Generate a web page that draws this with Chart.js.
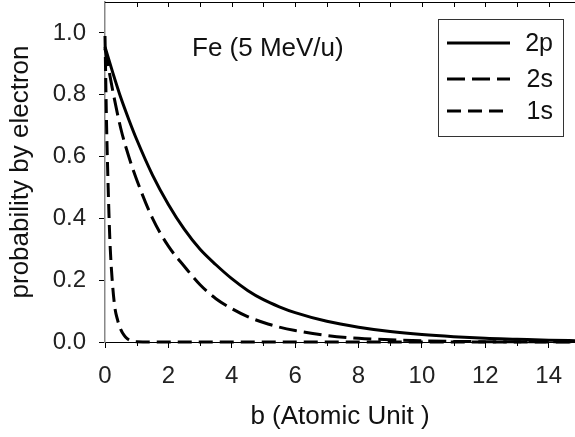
<!DOCTYPE html>
<html>
<head>
<meta charset="utf-8">
<script src="https://cdn.jsdelivr.net/npm/chart.js@4.4.1/dist/chart.umd.min.js"></script>
<style>
html,body{margin:0;padding:0;background:#fff;}
#wrap{width:575px;height:437px;position:relative;}
</style>
</head>
<body>
<div id="wrap"><canvas id="c" width="575" height="437"></canvas></div>
<script>
// ---- data ----
const bGrid = [0, 0.25, 0.5, 0.75, 1, 1.5, 2, 2.5, 3, 3.5, 4, 4.5, 5, 5.5, 6, 7, 8, 9, 10, 11, 12, 13, 14, 15];
const p2p   = [0.955, 0.87, 0.79, 0.72, 0.655, 0.54, 0.445, 0.365, 0.30, 0.25, 0.205, 0.167, 0.137, 0.114, 0.095, 0.067, 0.048, 0.034, 0.024, 0.017, 0.012, 0.009, 0.006, 0.004];
const p2s   = [0.95, 0.81, 0.69, 0.60, 0.525, 0.40, 0.31, 0.245, 0.185, 0.14, 0.108, 0.082, 0.063, 0.048, 0.037, 0.021, 0.012, 0.007, 0.004, 0.002, 0.001, 0.0005, 0.0005, 0.0005];
const b1s   = [0, 0.05, 0.1, 0.15, 0.2, 0.3, 0.4, 0.5, 0.6, 0.7, 0.8, 1, 2, 3, 4, 5, 6, 7, 8, 9, 10, 11, 12, 13, 14, 15];
const p1s   = [0.99, 0.70, 0.50, 0.34, 0.24, 0.12, 0.07, 0.04, 0.022, 0.011, 0.005, 0.001, 0, 0, 0, 0, 0, 0, 0, 0, 0, 0, 0, 0, 0, 0];
const seriesLabels = ['2p', '2s', '1s'];
const xTickValues = [0, 2, 4, 6, 8, 10, 12, 14];
const yTickValues = [0.0, 0.2, 0.4, 0.6, 0.8, 1.0];
const annotationText = 'Fe (5 MeV/u)';
const xTitleText = 'b (Atomic Unit )';
const yTitleText = 'probability by electron';

const FONT = '"Liberation Sans", Arial, Helvetica, sans-serif';
Chart.defaults.font.family = FONT;

const toPts = (xs, ys) => xs.map((x, i) => ({x: x, y: ys[i]}));

const decor = {
  id: 'decor',
  afterDraw(chart) {
    const ctx = chart.ctx;
    const ca = chart.chartArea;
    const xs = chart.scales.x;
    ctx.save();
    // top frame line
    ctx.strokeStyle = '#000';
    ctx.lineWidth = 1;
    ctx.beginPath();
    ctx.moveTo(ca.left, ca.top + 0.5);
    ctx.lineTo(ca.right, ca.top + 0.5);
    ctx.stroke();
    // top inward ticks (every unit) and bottom minor ticks (odd units)
    ctx.beginPath();
    for (let v = 1; v <= 14; v++) {
      const px = Math.round(xs.getPixelForValue(v)) + 0.5;
      ctx.moveTo(px, ca.top);
      ctx.lineTo(px, ca.top + 5);
      if (v % 2 === 1) {
        ctx.moveTo(px, ca.bottom);
        ctx.lineTo(px, ca.bottom + 4);
      }
    }
    ctx.stroke();

    // annotation text
    ctx.fillStyle = '#111';
    ctx.font = '26px ' + FONT;
    ctx.textAlign = 'left';
    ctx.textBaseline = 'alphabetic';
    ctx.fillText(annotationText, 192, 56);

    // legend box
    const bx = 438, by = 19, bw = 125, bh = 117;
    ctx.fillStyle = '#fff';
    ctx.fillRect(bx, by, bw, bh);
    ctx.strokeStyle = '#333';
    ctx.lineWidth = 1;
    ctx.strokeRect(bx + 0.5, by + 0.5, bw, bh);
    const rows = [43, 79, 111];
    chart.data.datasets.forEach((ds, i) => {
      const y = rows[i];
      ctx.strokeStyle = ds.borderColor;
      ctx.lineWidth = ds.borderWidth;
      ctx.setLineDash(ds.borderDash || []);
      ctx.beginPath();
      ctx.moveTo(447, y);
      ctx.lineTo(510, y);
      ctx.stroke();
      ctx.setLineDash([]);
      ctx.fillStyle = '#111';
      ctx.font = '25px ' + FONT;
      ctx.textAlign = 'right';
      ctx.textBaseline = 'middle';
      ctx.fillText(ds.label, 553, y + 1);
    });
    ctx.restore();
  }
};

new Chart(document.getElementById('c'), {
  type: 'line',
  data: {
    datasets: [
      { label: seriesLabels[0], data: toPts(bGrid, p2p), borderColor: '#000', borderWidth: 3, borderDash: [],
        pointRadius: 0, cubicInterpolationMode: 'monotone', fill: false, clip: {left: 5, top: 0, right: 0, bottom: 5} },
      { label: seriesLabels[1], data: toPts(bGrid, p2s), borderColor: '#000', borderWidth: 3, borderDash: [18, 7],
        pointRadius: 0, cubicInterpolationMode: 'monotone', fill: false, clip: {left: 5, top: 0, right: 0, bottom: 5} },
      { label: seriesLabels[2], data: toPts(b1s, p1s), borderColor: '#000', borderWidth: 3, borderDash: [14, 7],
        pointRadius: 0, cubicInterpolationMode: 'monotone', fill: false, clip: {left: 5, top: 0, right: 0, bottom: 5} }
    ]
  },
  options: {
    responsive: false,
    animation: false,
    layout: { padding: { top: 2, right: 0, left: 0, bottom: 0 } },
    plugins: { legend: { display: false }, tooltip: { enabled: false } },
    scales: {
      x: {
        type: 'linear', position: 'bottom', min: 0, max: 14.83,
        afterBuildTicks: s => { s.ticks = xTickValues.map(v => ({value: v})); },
        afterFit: s => { s.height = 95; s.paddingLeft = 0; s.paddingRight = 0; },
        ticks: { font: { size: 24 }, color: '#222', padding: 14, maxRotation: 0, autoSkip: false,
                 callback: v => String(v) },
        grid: { display: true, drawOnChartArea: false, drawTicks: true, tickLength: 6, color: '#000', lineWidth: 1 },
        border: { display: true, color: '#000', width: 1 },
        title: { display: true, text: xTitleText, font: { size: 26 }, color: '#111', padding: { top: 0, bottom: 5 } }
      },
      y: {
        type: 'linear', position: 'left', min: 0, max: 1.1,
        afterBuildTicks: s => { s.ticks = yTickValues.map(v => ({value: v})); },
        afterFit: s => { s.width = 105; s.paddingTop = 0; s.paddingBottom = 0; },
        ticks: { font: { size: 24 }, color: '#222', padding: 13, callback: v => Number(v).toFixed(1) },
        grid: { display: true, drawOnChartArea: false, drawTicks: true, tickLength: 6, color: '#000', lineWidth: 1 },
        border: { display: true, color: '#888', width: 1.5 },
        title: { display: true, text: yTitleText, font: { size: 26 }, color: '#111', padding: { top: 5, bottom: 0 } }
      }
    }
  },
  plugins: [decor]
});
</script>
</body>
</html>
